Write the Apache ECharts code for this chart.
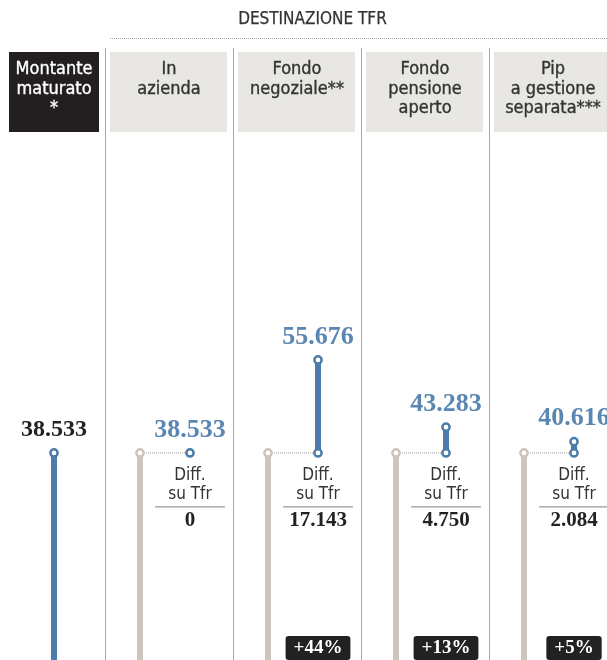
<!DOCTYPE html>
<html><head><meta charset="utf-8">
<script src="https://cdn.jsdelivr.net/npm/echarts@6/dist/echarts.min.js"></script>
<style>html,body{margin:0;padding:0;background:#fff}#c{width:607px;height:660px}</style>
</head><body><div id="c"></div>
<script>
// ---- data ----
const sectionTitle = 'DESTINAZIONE TFR';
const montanteHeader = ['Montante', 'maturato', '*'];
const montanteValues = [38533];
const destHeaders = [['In', 'azienda'], ['Fondo', 'negoziale**'], ['Fondo', 'pensione', 'aperto'], ['Pip', 'a gestione', 'separata***']];
const tfrValues = [38533, 38533, 38533, 38533];
const destValues = [38533, 55676, 43283, 40616];
const diffValues = [0, 17143, 4750, 2084];
const pctLabels = ['', '+44%', '+13%', '+5%'];
const diffLabel = 'Diff.\nsu Tfr';

// ---- style ----
const SANS = '"DejaVu Sans Condensed","Liberation Sans Narrow","Roboto",sans-serif';
const SERIF = '"Liberation Serif","DejaVu Serif",serif';
const BLUE = '#4d7cab', BLUE_TXT = '#5a86b2', GRAY = '#cbc5bb';

function fmt(v) { return String(v).replace(/\B(?=(\d{3})+(?!\d))/g, '.'); }

const chart = echarts.init(document.getElementById('c'), null, { renderer: 'canvas' });

function ring(x, y, color) {
  return { type: 'circle', shape: { cx: x, cy: y, r: 3.6 }, style: { fill: '#fff', stroke: color, lineWidth: 2.5 }, z2: 5 };
}

const headerStyle = { fontFamily: SANS, fontSize: 18, fontWeight: 'normal', lineHeight: 19.5, align: 'center', verticalAlign: 'top', lineWidth: 0.35 };

function renderMontante(params, api) {
  const i = api.value(0), v = api.value(1);
  const p0 = api.coord([i, 0]), pV = api.coord([i, v]);
  const band = api.size([1, 0])[0];
  const cx = pV[0];
  return { type: 'group', children: [
    { type: 'rect', shape: { x: cx - band / 2, y: 52, width: band, height: 80 }, style: { fill: '#231f20' } },
    { type: 'text', style: Object.assign({}, headerStyle, { text: montanteHeader.join('\n'), x: cx, y: 60, fill: '#fff', stroke: '#fff' }) },
    { type: 'line', shape: { x1: cx, y1: p0[1], x2: cx, y2: pV[1] }, style: { stroke: BLUE, lineWidth: 6 } },
    ring(cx, pV[1], BLUE),
    { type: 'text', style: { text: fmt(v), x: cx, y: pV[1] - 23, align: 'center', verticalAlign: 'middle', fontFamily: SERIF, fontSize: 24, fontWeight: 'bold', fill: '#222' } }
  ] };
}

function renderDest(params, api) {
  const i = api.value(0), tfr = api.value(1), dest = api.value(2), diff = api.value(3);
  const p0 = api.coord([i, 0]), pT = api.coord([i, tfr]), pD = api.coord([i, dest]);
  const band = api.size([1, 0])[0];
  const cx = pT[0], gx = cx - 29, bx = cx + 21;
  const ch = [];
  ch.push({ type: 'rect', shape: { x: cx - band / 2 + 5, y: 52, width: band - 11, height: 80 }, style: { fill: '#e9e7e3' } });
  ch.push({ type: 'text', style: Object.assign({}, headerStyle, { text: destHeaders[i].join('\n'), x: cx, y: 60, fill: '#333', stroke: '#333' }) });
  ch.push({ type: 'line', shape: { x1: gx, y1: p0[1], x2: gx, y2: pT[1] }, style: { stroke: GRAY, lineWidth: 6 } });
  ch.push({ type: 'line', shape: { x1: gx, y1: pT[1], x2: bx, y2: pT[1] }, style: { stroke: '#999', lineWidth: 1, lineDash: [1, 1] } });
  ch.push(ring(gx, pT[1], GRAY));
  if (dest > tfr) {
    ch.push({ type: 'line', shape: { x1: bx, y1: pT[1], x2: bx, y2: pD[1] }, style: { stroke: BLUE, lineWidth: 6 } });
    ch.push(ring(bx, pD[1], BLUE));
  }
  ch.push(ring(bx, pT[1], BLUE));
  ch.push({ type: 'text', style: { text: fmt(dest), x: bx, y: pD[1] - 23, align: 'center', verticalAlign: 'middle', fontFamily: SERIF, fontSize: 26, fontWeight: 'bold', fill: BLUE_TXT } });
  ch.push({ type: 'text', style: { text: diffLabel, x: bx, y: pT[1] + 13, align: 'center', verticalAlign: 'top', fontFamily: SANS, fontSize: 17, lineHeight: 19, fill: '#333' } });
  ch.push({ type: 'line', shape: { x1: bx - 35, y1: pT[1] + 54, x2: bx + 35, y2: pT[1] + 54 }, style: { stroke: '#999', lineWidth: 1.2 } });
  ch.push({ type: 'text', style: { text: fmt(diff), x: bx, y: pT[1] + 68, align: 'center', verticalAlign: 'middle', fontFamily: SERIF, fontSize: 21, fontWeight: 'bold', fill: '#222' } });
  if (pctLabels[i]) {
    ch.push({ type: 'text', style: { text: pctLabels[i], x: bx, y: p0[1] - 14, align: 'center', verticalAlign: 'middle', fontFamily: SERIF, fontSize: 19, fontWeight: 'bold', fill: '#fff', backgroundColor: '#222', padding: [3, 8, 2, 8], borderRadius: 3 } });
  }
  return { type: 'group', children: ch };
}

const yMax = 113180;
chart.setOption({
  animation: false,
  backgroundColor: '#fff',
  grid: [
    { left: 9, width: 90, top: 48, height: 614, outerBoundsMode: 'none' },
    { left: 105, width: 512, top: 48, height: 614, outerBoundsMode: 'none' }
  ],
  xAxis: [
    { type: 'category', gridIndex: 0, data: ['Montante'], axisLine: { show: false }, axisTick: { show: false }, axisLabel: { show: false }, splitLine: { show: false } },
    { type: 'category', gridIndex: 1, data: destHeaders.map(h => h.join(' ')), axisLine: { show: false }, axisTick: { show: false, interval: 0 }, axisLabel: { show: false, interval: 0 },
      splitLine: { show: true, interval: 0, lineStyle: { color: '#a9a9a9', width: 1 } } }
  ],
  yAxis: [
    { type: 'value', gridIndex: 0, min: 0, max: yMax, show: false, splitLine: { show: false } },
    { type: 'value', gridIndex: 1, min: 0, max: yMax, show: false, splitLine: { show: false } }
  ],
  graphic: [
    { type: 'text', left: 238, top: 11, style: { text: sectionTitle, fontFamily: SANS, fontSize: 17, fill: '#333', stroke: '#333', lineWidth: 0.25 } },
    { type: 'line', shape: { x1: 110, y1: 38.5, x2: 607, y2: 38.5 }, style: { stroke: '#aaa', lineWidth: 1, lineDash: [1, 1] } }
  ],
  series: [
    { type: 'custom', xAxisIndex: 0, yAxisIndex: 0, renderItem: renderMontante, data: montanteValues.map((v, i) => [i, v]) },
    { type: 'custom', xAxisIndex: 1, yAxisIndex: 1, renderItem: renderDest, data: destValues.map((v, i) => [i, tfrValues[i], v, diffValues[i]]) }
  ]
});
</script>
</body></html>
